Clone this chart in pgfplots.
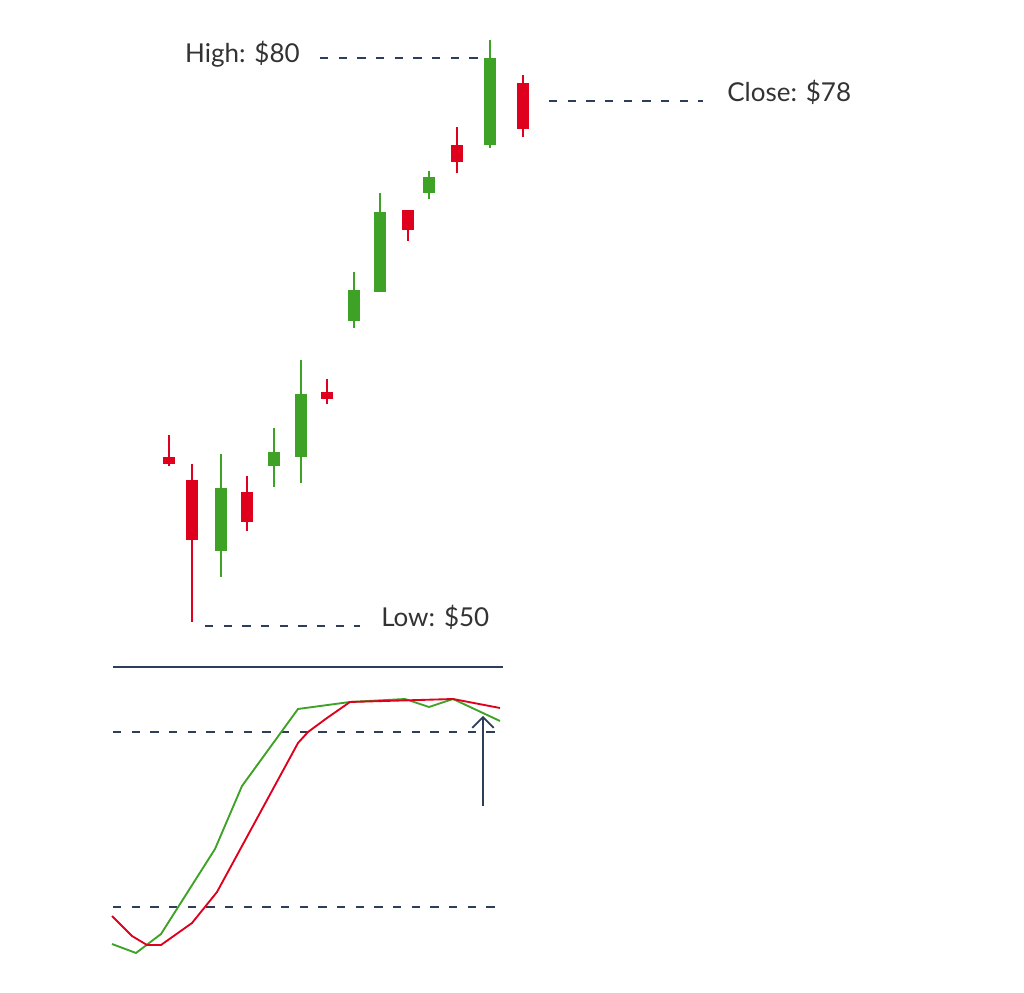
\documentclass[border=0pt]{standalone}
\usepackage{pgfplots}
\pgfplotsset{compat=1.18}
\usepackage{pgfplotstable}
\usepackage{fontspec}
\setmainfont{Lato}
\usetikzlibrary{arrows.meta}

\definecolor{cgreen}{RGB}{62,162,38}
\definecolor{cred}{RGB}{222,0,28}
\definecolor{cnavy}{RGB}{44,62,90}
\definecolor{ctext}{RGB}{51,51,51}

% candles: x position, open, high, low, close
\pgfplotstableread{
x   o      h      l      c
221 53.96  59.08  52.59  57.29
274 58.45  60.46  57.34  59.19
301 58.93  64.05  57.55  62.25
354 66.11  68.70  65.74  67.75
380 67.64  72.87  67.64  71.87
429 72.87  74.03  72.55  73.71
490 75.40  80.95  75.25  80.00
}\up
\pgfplotstableread{
x   o      h      l      c
169 58.93  60.09  58.45  58.56
192 57.71  58.56  50.20  54.54
247 57.08  57.92  55.02  55.49
327 62.36  63.05  61.73  61.99
408 71.97  71.97  70.33  70.92
457 75.40  76.36  73.93  74.51
523 78.68  79.10  75.83  76.25
}\down

\pgfplotsset{
  wick/.style={draw=none, mark=none, forget plot,
    error bars/.cd, y dir=both, y explicit, error mark=none,
    error bar style={draw=#1, line width=1.35pt}},
  body/.style={draw=none, mark=none, forget plot,
    error bars/.cd, y dir=both, y explicit, error mark=none,
    error bar style={draw=#1, line width=8.6pt}},
  refline/.style={cnavy, line width=1.05pt, dash pattern=on 6.2pt off 7.8pt},
}

\begin{document}
\begin{tikzpicture}
\useasboundingbox (0,0) rectangle (768pt,744pt);
\begin{axis}[at={(0,0)}, anchor=south west,
    width=768pt, height=744pt, scale only axis,
    xmin=0, xmax=1024, ymin=30.669, ymax=83.063,
    hide axis, clip=false]
  \addplot[wick=cgreen] table[x=x, y expr=(\thisrow{h}+\thisrow{l})/2,
      y error expr=(\thisrow{h}-\thisrow{l})/2] {\up};
  \addplot[body=cgreen] table[x=x, y expr=(\thisrow{o}+\thisrow{c})/2,
      y error expr=abs(\thisrow{c}-\thisrow{o})/2] {\up};
  \addplot[wick=cred] table[x=x, y expr=(\thisrow{h}+\thisrow{l})/2,
      y error expr=(\thisrow{h}-\thisrow{l})/2] {\down};
  \addplot[body=cred] table[x=x, y expr=(\thisrow{o}+\thisrow{c})/2,
      y error expr=abs(\thisrow{c}-\thisrow{o})/2] {\down};

  % reference lines
  \addplot[refline] coordinates {(320,80) (478,80)};
  \addplot[refline] coordinates {(549,77.73) (703,77.73)};
  \addplot[refline] coordinates {(205,50) (360,50)};

  \node[anchor=base east, inner sep=0pt, text=ctext, font=\fontsize{19.5}{22}\selectfont]
    at (axis cs:300,79.74) {High: \$80};
  \node[anchor=base west, inner sep=0pt, text=ctext, font=\fontsize{19.5}{22}\selectfont]
    at (axis cs:727,77.68) {Close: \$78};
  \node[anchor=base west, inner sep=0pt, text=ctext, font=\fontsize{19.5}{22}\selectfont]
    at (axis cs:381,49.95) {Low: \$50};
\end{axis}

\begin{axis}[at={(0,0)}, anchor=south west,
    width=768pt, height=744pt, scale only axis,
    xmin=0, xmax=1024, ymin=-9.143, ymax=330.97,
    hide axis, clip=false]
  \addplot[cnavy, line width=1.2pt] coordinates {(113,102.3) (503,102.3)};
  \addplot[refline] coordinates {(113,80) (497,80)};
  \addplot[refline] coordinates {(113,20) (497,20)};

  % %K
  \addplot[cgreen, line width=1.4pt] coordinates {
    (112,7.31) (136,4.23) (161,10.74) (215,39.89) (242,61.49) (298,87.89)
    (350,90.29) (405,91.31) (429,88.57) (453,91.31) (500,83.77)};
  % %D
  \addplot[cred, line width=1.4pt] coordinates {
    (112,16.91) (132,10.06) (147,6.97) (161,6.97) (192,14.51) (217,25.14)
    (298,76.23) (308,80.0) (327,84.8) (350,90.29) (453,91.31) (500,88.23)};

  \draw[cnavy, line width=1.3pt, -{Straight Barb[length=8pt, width=16pt]}]
    (axis cs:483,54.6) -- (axis cs:483,85.5);
\end{axis}
\end{tikzpicture}
\end{document}
